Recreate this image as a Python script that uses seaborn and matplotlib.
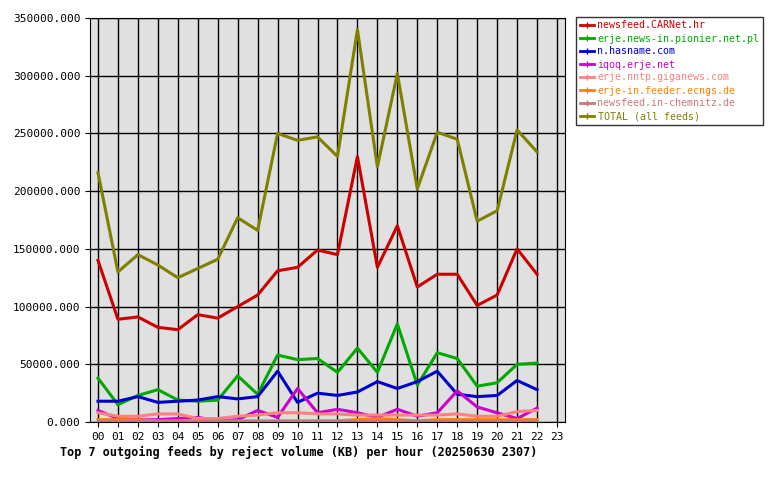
import matplotlib
matplotlib.use("Agg")
import matplotlib.pyplot as plt
import seaborn as sns
import pandas as pd

hours = list(range(23))
hour_labels = [f"{h:02d}" for h in range(24)]
feeds = ["newsfeed.CARNet.hr", "erje.news-in.pionier.net.pl", "n.hasname.com", "iqoq.erje.net",
         "erje.nntp.giganews.com", "erje-in.feeder.ecngs.de", "newsfeed.in-chemnitz.de", "TOTAL (all feeds)"]
colors = ["#cc0000", "#00aa00", "#0000cc", "#cc00cc", "#ff8080", "#ff8000", "#cc7777", "#808000"]
carnet = [140,89,91,82,80,93,90,100,110,131,134,149,145,230,134,170,117,128,128,101,110,150,128]
pionier = [38,15,23,28,19,18,19,40,24,58,54,55,43,64,43,85,32,60,55,31,34,50,51]
hasname = [18,18,22,17,18,19,22,20,22,44,17,25,23,26,35,29,35,44,24,22,23,36,28]
iqoq = [10,3,2,2,3,4,1,2,10,4,29,8,11,8,4,11,5,8,27,13,8,3,12]
giganews = [8,5,5,7,7,3,3,5,6,8,8,7,7,6,6,6,6,6,7,5,5,9,10]
ecngs = [2,2,2,1,1,1,1,1,1,1,1,1,1,2,3,2,1,2,2,2,2,2,2]
chemnitz = [1,1,1,1,1,1,1,1,1,1,1,1,1,1,1,1,1,1,1,1,1,1,1]
total = [216,130,145,136,125,133,141,177,166,250,244,247,230,340,221,302,202,251,245,174,183,253,234]
series = [carnet, pionier, hasname, iqoq, giganews, ecngs, chemnitz, total]

rows = []
for f, vals in zip(feeds, series):
    for h, v in zip(hours, vals):
        rows.append({"hour": h, "kb": v * 1000, "feed": f})
df = pd.DataFrame(rows)

plt.rcParams["font.family"] = "DejaVu Sans Mono"
fig = plt.figure(figsize=(7.8, 4.8), dpi=100)
ax = fig.add_axes([90/780, 58/480, 475/780, 404/480])
ax.set_facecolor("#e0e0e0")
sns.lineplot(data=df, x="hour", y="kb", hue="feed", hue_order=feeds, palette=colors,
             linewidth=2.2, ax=ax, legend=False)
ax.set_xlim(-0.4, 23.4)
ax.set_ylim(0, 350000)
ax.set_xticks(range(24))
ax.set_xticklabels(hour_labels, fontsize=8)
ax.set_yticks(range(0, 350001, 50000))
ax.set_yticklabels([f"{v}.000" for v in range(0, 350001, 50000)], fontsize=8)
ax.grid(True, color="black", linewidth=1)
ax.set_axisbelow(True)
ax.set_xlabel("")
ax.set_ylabel("")
fig.text(60/780, 1 - 452/480, "Top 7 outgoing feeds by reject volume (KB) per hour (20250630 2307)",
         fontsize=8.5, fontweight="bold", va="center")
handles = [plt.Line2D([], [], color=c, linewidth=2, marker="|", markersize=4) for c in colors]
leg = fig.legend(handles, feeds, loc="upper left", bbox_to_anchor=(576/780, 1 - 17/480),
                 fontsize=7.2, frameon=True, fancybox=False, edgecolor="black",
                 handlelength=1.4, handletextpad=0.4, borderpad=0.35, borderaxespad=0,
                 labelspacing=0.3)
for t, c in zip(leg.get_texts(), colors):
    t.set_color(c)
fig.savefig("out.png", dpi=100)
